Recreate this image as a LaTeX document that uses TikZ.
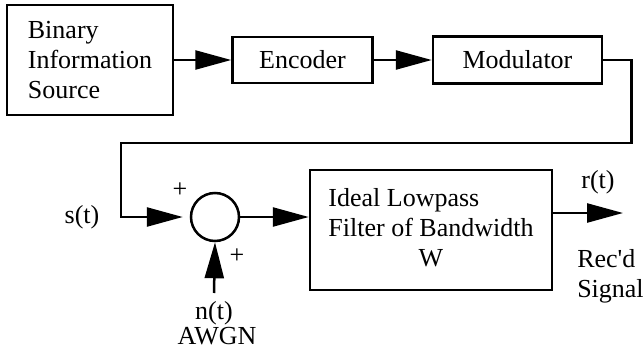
\documentclass[tikz,border=0pt]{standalone}
\usepackage{fontspec}
\setmainfont{Liberation Serif}[Ligatures=TeXOff]
\usetikzlibrary{arrows.meta, positioning}

\begin{document}
\begin{tikzpicture}[
    x=1pt, y=-1pt,
    font=\fontsize{26}{30}\selectfont,
    line width=2.5pt,
    blk/.style={rectangle, draw, inner sep=0pt},
    lbl/.style={inner sep=0pt},
    >={Triangle[length=36pt, width=19pt]}
]
\useasboundingbox (0,0) rectangle (643,356);

% transmitter chain
\node[blk, minimum width=166pt, minimum height=110pt, align=left] (src) at (90,60) {Binary\\Information\\Source};
\node[blk, minimum width=140pt, minimum height=46pt, right=57pt of src] (enc) {Encoder};
\node[blk, minimum width=169pt, minimum height=47pt, right=58pt of enc] (mod) {Modulator};

% channel
\node[circle, draw, minimum size=48pt, inner sep=0pt] (sum) at (215,217) {};
\node[blk, minimum width=242pt, minimum height=120pt] (filt) at (431,230)
  {\begin{tabular}{@{}l@{}}Ideal Lowpass\\Filter of Bandwidth\\\multicolumn{1}{@{}c@{}}{W}\end{tabular}};

\node[lbl] (st) at (82,217) {s(t)};
\node[lbl] (pa) at (180,190) {+};
\node[lbl] (pb) at (237,256) {+};
\coordinate (nin) at (214,293);
\node[lbl, anchor=north] (nt) at (214,300) {n(t)};
\node[lbl, anchor=north] (awgn) at (217,326) {AWGN};

\coordinate (rout) at (623,213);
\node[lbl] (rt) at (598,182) {r(t)};
\node[lbl, anchor=west, align=left] (recd) at (576,276) {Rec'd\\Signal};

\draw[->] (src) -- (enc);
\draw[->] (enc) -- (mod);
\draw[->, shorten >=7pt] (mod.east) -- ++(28,0) |- (121,143) |- (sum.west);
\draw[->] (nin) -- (sum.south);
\draw[->] (sum.east) -- (sum.east -| filt.west);
\draw[->] (filt.east |- rout) -- (rout);
\end{tikzpicture}
\end{document}
